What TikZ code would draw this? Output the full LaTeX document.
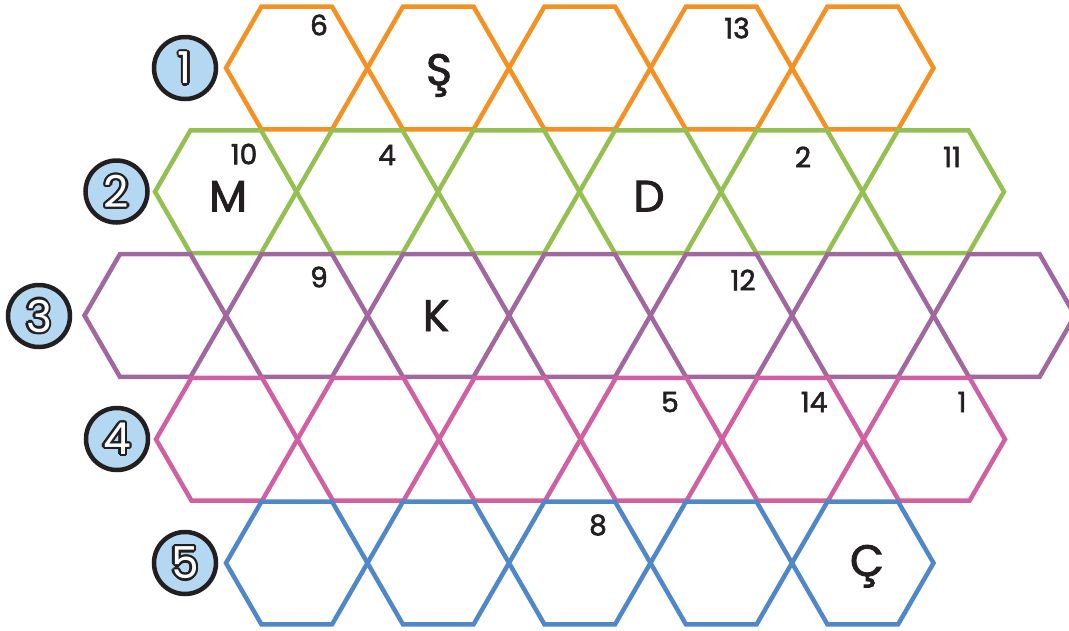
\documentclass[tikz,border=0pt]{standalone}
\usepackage{fontspec}
\setmainfont{Poppins}
\newfontfamily\lblfont{Poppins}[FakeBold=2]
\usetikzlibrary{calc}
\definecolor{rowone}{HTML}{F39122}
\definecolor{rowtwo}{HTML}{94C052}
\definecolor{rowthree}{HTML}{A0689F}
\definecolor{rowfour}{HTML}{D160A2}
\definecolor{rowfive}{HTML}{4F87C8}
\definecolor{circfill}{HTML}{B4D8F1}
\definecolor{ink}{HTML}{231F20}
\newcommand\hexat[3]{\draw[hexline,#3] (#1,#2) +(0:70.75) -- +(60:70.75) -- +(120:70.75) -- +(180:70.75) -- +(240:70.75) -- +(300:70.75) -- cycle;}
\newcommand\circnum[4]{%
  \node[numcirc] (#1) at (#2,#3) {};
  \foreach \a [count=\k] in {0,30,...,330}
    \node[circdigit,text=ink] (#1o\k) at ($(#1)+(\a:2.2)$) {#4};
  \node[circdigit,text=white] (#1t) at (#1) {#4};
}
\begin{document}
\begin{tikzpicture}[x=1pt,y=-1pt,
  hexline/.style={line width=4.5pt,line join=miter},
  numcirc/.style={circle,draw=ink,fill=circfill,line width=4.5pt,minimum size=62pt,inner sep=0pt},
  circdigit/.style={inner sep=0pt,font=\fontsize{44}{44}\selectfont},
  lbl/.style={inner sep=0pt,text=ink,font=\lblfont\fontsize{28}{28}\selectfont},
  letter/.style={inner sep=0pt,anchor=base,text=ink,font=\lblfont\fontsize{44}{44}\selectfont}]
\useasboundingbox (0,0) rectangle (1069,630);
\clip (0,0) rectangle (1069,630);
% rows of hexagons
\foreach \i in {0,...,4} {\hexat{226+70.75+\i*141.5}{68}{rowone}}
\foreach \i in {0,...,5} {\hexat{155+70.75+\i*141.5}{191.75}{rowtwo}}
\foreach \i in {0,...,6} {\hexat{84.5+70.75+\i*141.5}{315.5}{rowthree}}
\foreach \i in {0,...,5} {\hexat{156+70.75+\i*141.5}{439.25}{rowfour}}
\foreach \i in {0,...,4} {\hexat{226+70.75+\i*141.5}{563}{rowfive}}
% row number circles
\circnum{c1}{185}{68}{1}
\circnum{c2}{116.5}{191.5}{2}
\circnum{c3}{39}{316}{3}
\circnum{c4}{117}{439}{4}
\circnum{c5}{185}{563}{5}
% numbers in hexagons
\node[lbl] (n6) at (319,25) {6};
\node[lbl] (n13) at (737,28) {13};
\node[lbl] (n10) at (244,154) {10};
\node[lbl] (n4) at (387,155) {4};
\node[lbl] (n2) at (803,157) {2};
\node[lbl] (n11) at (952,157) {11};
\node[lbl] (n9) at (319,277) {9};
\node[lbl] (n12) at (743,280) {12};
\node[lbl] (n5) at (670,402) {5};
\node[lbl] (n14) at (814,402) {14};
\node[lbl] (n1) at (962,402) {1};
\node[lbl] (n8) at (598,525) {8};
% letters
\node[letter] (lS) at (439,85) {Ş};
\node[letter] (lM) at (228,211.5) {M};
\node[letter] (lD) at (649,211.5) {D};
\node[letter] (lK) at (436,331) {K};
\node[letter] (lC) at (867,576) {Ç};
\end{tikzpicture}
\end{document}
